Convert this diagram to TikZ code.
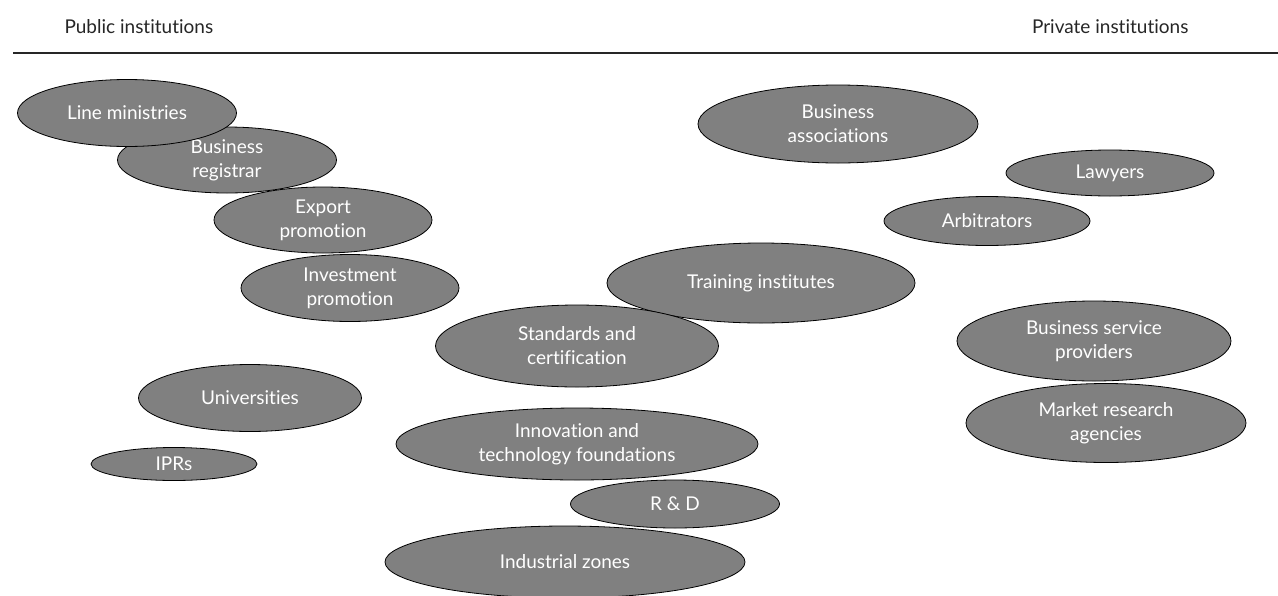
\documentclass[tikz,border=0pt]{standalone}
\usepackage{fontspec}
\setmainfont{Lato}[Ligatures=NoCommon]
\usepackage{tikz}
\usetikzlibrary{shapes.geometric, positioning}

\definecolor{instgray}{RGB}{128,128,128}

\begin{document}
\begin{tikzpicture}[x=1pt, y=-1pt,
    inst/.style={ellipse, draw=black, line width=0.8pt, fill=instgray, text=white,
        inner sep=0pt, align=center, font=\fontsize{19}{24}\selectfont},
    head/.style={text=black!85, font=\fontsize{19}{22}\selectfont}]
        \useasboundingbox (0,0) rectangle (1278,595);

        % Headings
        \node[head, anchor=west] (pub) at (61,27) {Public institutions};
        \node[head, anchor=east] (priv) at (1192,27) {Private institutions};
        \coordinate (ruleL) at (13,53);
        \coordinate (ruleR) at (1278,53);
        \draw[line width=1.1pt, black!85] (ruleL) -- (ruleR);

        % Private institutions
        \node[inst, minimum width=280pt, minimum height=79pt] (mra) at (1106,423) {Market research\\agencies};
        \node[inst, minimum width=274pt, minimum height=80pt] (bsp) at (1094,341) {Business service\\providers};
        \node[inst, minimum width=308pt, minimum height=80pt] (train) at (761,283) {Training institutes};
        \node[inst, minimum width=206pt, minimum height=49pt] (arb) at (987,221) {Arbitrators};
        \node[inst, minimum width=208pt, minimum height=46pt] (law) at (1110,173) {Lawyers};
        \node[inst, minimum width=280pt, minimum height=78pt] (bassoc) at (838,124) {Business\\associations};

        % Shared
        \node[inst, minimum width=360pt, minimum height=72pt] (zones) at (565,562) {Industrial zones};
        \node[inst, minimum width=209pt, minimum height=48pt] (rnd) at (675,504) {R \& D};
        \node[inst, minimum width=362pt, minimum height=72pt] (innov) at (577,444) {Innovation and\\technology foundations};
        \node[inst, minimum width=283pt, minimum height=82pt] (std) at (577,346) {Standards and\\certification};

        % Public institutions
        \node[inst, minimum width=166pt, minimum height=33pt] (ipr) at (174,464) {IPRs};
        \node[inst, minimum width=223pt, minimum height=67pt] (uni) at (250,398) {Universities};
        \node[inst, minimum width=218pt, minimum height=67pt] (invest) at (350,288) {Investment\\promotion};
        \node[inst, minimum width=218pt, minimum height=66pt] (export) at (323,220) {Export\\promotion};
        \node[inst, minimum width=219pt, minimum height=66pt] (reg) at (227,160) {Business\\registrar};
        \node[inst, minimum width=219pt, minimum height=67pt] (line) at (127,113) {Line ministries};
    \end{tikzpicture}
\end{document}
